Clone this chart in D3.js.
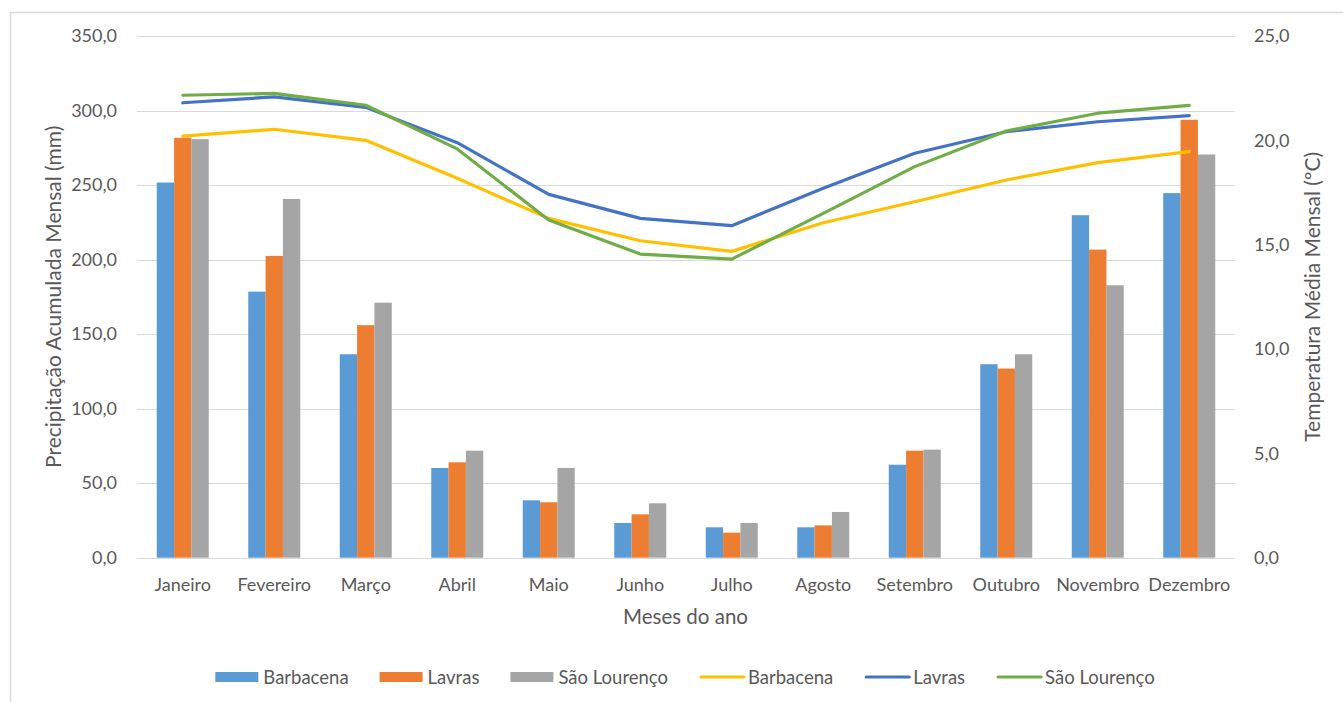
<!DOCTYPE html>
<html lang="pt">
<head>
<meta charset="utf-8">
<script src="https://cdn.jsdelivr.net/npm/d3@7"></script>
<style>
  html, body { margin: 0; padding: 0; background: #fff; }
  svg { display: block; font-family: Lato, "Open Sans", sans-serif; }
</style>
</head>
<body>
<svg id="chart" width="1343" height="702"></svg>
<script>
// Meses do ano
const months = ["Janeiro", "Fevereiro", "Março", "Abril", "Maio", "Junho",
                "Julho", "Agosto", "Setembro", "Outubro", "Novembro", "Dezembro"];
const stations = ["Barbacena", "Lavras", "São Lourenço"];

// Precipitação acumulada mensal (mm)
const rainBarbacena   = [251.7, 178.5, 136.5, 60.2, 38.5, 23.3, 20.4, 20.4, 62.4, 129.8, 229.8, 244.6];
const rainLavras      = [281.7, 202.5, 156.0, 64.0, 37.2, 29.1, 16.8, 21.7, 71.8, 126.9, 206.7, 293.8];
const rainSaoLourenco = [280.8, 240.7, 171.1, 71.8, 60.2, 36.5, 23.3, 30.7, 72.5, 136.5, 182.8, 270.5];

// Temperatura média mensal (ºC)
const tempBarbacena   = [20.2, 20.53, 20.0, 18.18, 16.26, 15.19, 14.68, 16.05, 17.06, 18.1, 18.93, 19.46];
const tempLavras      = [21.8, 22.08, 21.58, 19.89, 17.41, 16.26, 15.91, 17.7, 19.38, 20.41, 20.89, 21.18];
const tempSaoLourenco = [22.16, 22.25, 21.68, 19.59, 16.18, 14.55, 14.31, 16.5, 18.74, 20.45, 21.3, 21.68];

// Rótulos dos eixos
const leftTicks  = [0, 50, 100, 150, 200, 250, 300, 350];
const rightTicks = [0, 5, 10, 15, 20, 25];

const rainSeries = [rainBarbacena, rainLavras, rainSaoLourenco];
const tempSeries = [tempBarbacena, tempLavras, tempSaoLourenco];
const barColors  = ["#5B9BD5", "#ED7D31", "#A5A5A5"];
const lineColors = ["#FFC000", "#4472C4", "#70AD47"];
const textColor  = "#595959";
const gridColor  = "#D9D9D9";

const svg = d3.select("#chart");
const plot = { left: 137, right: 1235, top: 36, bottom: 557.7 };

// frame of the chart area
svg.append("path")
  .attr("d", `M10.5,${710} V12.5 H${1350}`)
  .attr("fill", "none").attr("stroke", gridColor).attr("stroke-width", 1.5);

const x = d3.scaleBand().domain(months).range([plot.left, plot.right]).padding(0);
const groupPad = 19.75;
const xInner = d3.scaleBand().domain(d3.range(3))
  .range([groupPad, x.bandwidth() - groupPad]).padding(0);
const yLeft = d3.scaleLinear().domain([0, 350]).range([plot.bottom, plot.top]);
const yRight = d3.scaleLinear().domain([0, 25]).range([plot.bottom, plot.top]);

// gridlines
svg.append("g").selectAll("line").data(leftTicks).join("line")
  .attr("x1", plot.left).attr("x2", plot.right)
  .attr("y1", d => Math.round(yLeft(d)) + 0.5).attr("y2", d => Math.round(yLeft(d)) + 0.5)
  .attr("stroke", gridColor).attr("stroke-width", 1);

// left axis labels
const fmt = d => d3.format(".1f")(d).replace(".", ",");
const leftAxis = d3.axisLeft(yLeft).tickValues(leftTicks).tickFormat(fmt).tickSize(0).tickPadding(0);
const gL = svg.append("g").attr("transform", `translate(117,0)`).call(leftAxis);
gL.select(".domain").remove();
gL.selectAll("text").attr("fill", textColor).style("font-size", "18px")
  .style("font-family", "Lato, sans-serif");

// right axis labels
const rightAxis = d3.axisRight(yRight).tickValues(rightTicks).tickFormat(fmt).tickSize(0).tickPadding(0);
const gR = svg.append("g").attr("transform", `translate(1254,0)`).call(rightAxis);
gR.select(".domain").remove();
gR.selectAll("text").attr("fill", textColor).style("font-size", "18px")
  .style("font-family", "Lato, sans-serif");

// category axis labels
const bottomAxis = d3.axisBottom(x).tickSize(0).tickPadding(0);
const gB = svg.append("g").attr("transform", `translate(0,578)`).call(bottomAxis);
gB.select(".domain").remove();
gB.selectAll("text").attr("fill", textColor).style("font-size", "18px")
  .style("font-family", "Lato, sans-serif");

// bars
const barData = [];
months.forEach((m, i) => rainSeries.forEach((s, j) => barData.push({ m, j, v: s[i] })));
svg.append("g").selectAll("rect").data(barData).join("rect")
  .attr("x", d => x(d.m) + xInner(d.j))
  .attr("width", xInner.bandwidth())
  .attr("y", d => yLeft(d.v))
  .attr("height", d => yLeft(0) - yLeft(d.v))
  .attr("fill", d => barColors[d.j]);

// temperature lines
const line = d3.line()
  .x((d, i) => x(months[i]) + x.bandwidth() / 2)
  .y(d => yRight(d));
svg.append("g").selectAll("path").data(tempSeries).join("path")
  .attr("d", d => line(d))
  .attr("fill", "none")
  .attr("stroke", (d, i) => lineColors[i])
  .attr("stroke-width", 3.2)
  .attr("stroke-linejoin", "round")
  .attr("stroke-linecap", "round");

// axis titles
svg.append("text")
  .attr("transform", `translate(61,${(plot.top + plot.bottom) / 2}) rotate(-90)`)
  .attr("text-anchor", "middle").attr("fill", textColor)
  .style("font-size", "21px").text("Precipitação Acumulada Mensal (mm)");
svg.append("text")
  .attr("transform", `translate(1320,${(plot.top + plot.bottom) / 2}) rotate(-90)`)
  .attr("text-anchor", "middle").attr("fill", textColor)
  .style("font-size", "21px").text("Temperatura Média Mensal (ºC)");
svg.append("text")
  .attr("x", 685.5).attr("y", 624)
  .attr("text-anchor", "middle").attr("fill", textColor)
  .style("font-size", "20.5px").text("Meses do ano");

// legend
const legendItems = [
  ...stations.map((s, i) => ({ label: s, color: barColors[i], kind: "bar" })),
  ...stations.map((s, i) => ({ label: s, color: lineColors[i], kind: "line" }))
];
const legend = svg.append("g");
let cursor = 0;
legendItems.forEach(item => {
  const g = legend.append("g").attr("transform", `translate(${cursor},0)`);
  if (item.kind === "bar") {
    g.append("rect").attr("x", 0).attr("y", -5).attr("width", 43).attr("height", 10)
      .attr("fill", item.color);
  } else {
    g.append("line").attr("x1", 2).attr("x2", 45).attr("y1", 0).attr("y2", 0)
      .attr("stroke", item.color).attr("stroke-width", 3.2).attr("stroke-linecap", "round");
  }
  const t = g.append("text").attr("x", item.kind === "bar" ? 48 : 49).attr("y", 6.5)
    .attr("fill", textColor).style("font-size", "18.5px").text(item.label);
  cursor += (item.kind === "bar" ? 48 : 49) + t.node().getComputedTextLength() + 31;
});
const legendWidth = cursor - 31;
legend.attr("transform", `translate(${685 - legendWidth / 2},677)`);
</script>
</body>
</html>
